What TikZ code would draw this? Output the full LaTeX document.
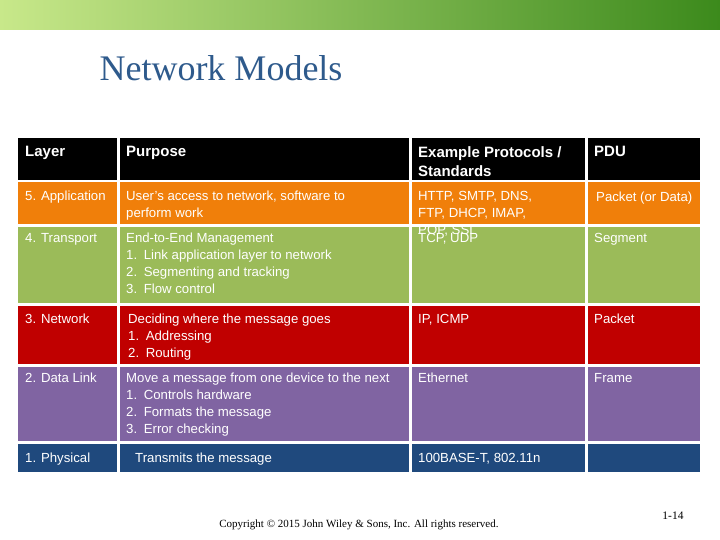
\documentclass[tikz,border=0pt]{standalone}
\usepackage{fontspec}
\setmainfont{Liberation Sans}
\newfontfamily\serifF{Liberation Serif}
\definecolor{corange}{HTML}{F07F0A}
\definecolor{cgreen}{HTML}{9BBB59}
\definecolor{cred}{HTML}{C00000}
\definecolor{cpurple}{HTML}{8064A2}
\definecolor{cblue}{HTML}{1F497D}
\definecolor{ctitle}{HTML}{2E5A8C}
\definecolor{gl}{HTML}{C8E88A}
\definecolor{gr}{HTML}{3C8A1C}
\begin{document}
\begin{tikzpicture}[x=1pt,y=-1pt,
  txt/.style={anchor=north west,inner sep=0pt,text=white,align=left,font=\fontsize{13.2}{17}\selectfont,yshift=-2pt},
  hdr/.style={anchor=north west,inner sep=0pt,text=white,align=left,font=\bfseries\fontsize{15}{19}\selectfont,yshift=-1pt}]
\useasboundingbox (0,0) rectangle (720,540);
\shade[left color=gl, right color=gr] (0,0) rectangle (720,30);
\node[anchor=west,text=ctitle,font=\serifF\fontsize{36}{40}\selectfont] (title) at (96,68) {Network Models};
% cells
\foreach \ya/\yb/\c in {138/180/black,182/224/corange,227/303/cgreen,306/364/cred,367/441/cpurple,444/472/cblue}{
  \fill[\c] (18,\ya) rectangle (117,\yb);
  \fill[\c] (120,\ya) rectangle (409,\yb);
  \fill[\c] (412,\ya) rectangle (585,\yb);
  \fill[\c] (588,\ya) rectangle (700,\yb);
}
\node[hdr] (h1) at (25,145) {Layer};
\node[hdr] (h2) at (126,145) {Purpose};
\node[hdr] (h3) at (418,145) {Example Protocols /\\Standards};
\node[hdr] (h4) at (594,145) {PDU};
\node[txt] (a1) at (25,189) {5. Application};
\node[txt] (a2) at (126,189) {User's access to network, software to\\perform work};
\node[txt] (a3) at (418,189) {HTTP, SMTP, DNS,\\FTP, DHCP, IMAP,\\POP, SSL};
\node[txt] (a4) at (596,190) {Packet (or Data)};
\node[txt] (b1) at (25,231) {4. Transport};
\node[txt] (b2) at (126,231) {End-to-End Management\\1.\enspace Link application layer to network\\2.\enspace Segmenting and tracking\\3.\enspace Flow control};
\node[txt] (b3) at (418,231) {TCP, UDP};
\node[txt] (b4) at (594,231) {Segment};
\node[txt] (c1) at (25,312) {3. Network};
\node[txt] (c2) at (128,312) {Deciding where the message goes\\1.\enspace Addressing\\2.\enspace Routing};
\node[txt] (c3) at (418,312) {IP, ICMP};
\node[txt] (c4) at (594,312) {Packet};
\node[txt] (d1) at (25,371) {2. Data Link};
\node[txt] (d2) at (126,371) {Move a message from one device to the next\\1.\enspace Controls hardware\\2.\enspace Formats the message\\3.\enspace Error checking};
\node[txt] (d3) at (418,371) {Ethernet};
\node[txt] (d4) at (594,371) {Frame};
\node[txt] (e1) at (25,451) {1. Physical};
\node[txt] (e2) at (135,451) {Transmits the message};
\node[txt] (e3) at (418,451) {100BASE-T, 802.11n};
\node[font=\serifF\fontsize{11}{12}\selectfont] (copy) at (359,525) {Copyright \textcopyright{} 2015 John Wiley \& Sons, Inc. All rights reserved.};
\node[font=\serifF\fontsize{11.5}{12}\selectfont] (pg) at (673,516) {1-14};
\end{tikzpicture}
\end{document}
